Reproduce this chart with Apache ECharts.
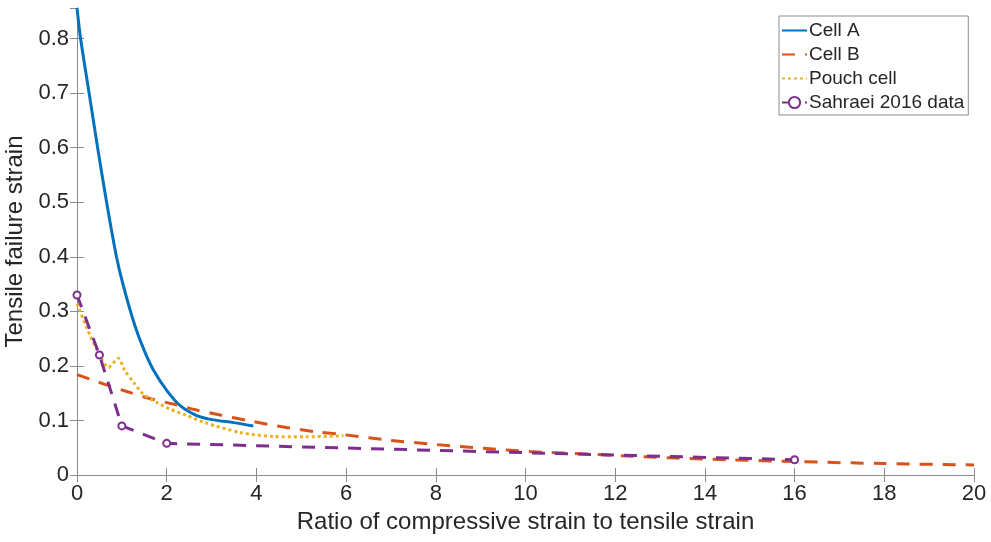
<!DOCTYPE html>
<html>
<head>
<meta charset="utf-8">
<script src="https://cdn.jsdelivr.net/npm/echarts@6/dist/echarts.min.js"></script>
<style>
  html, body { margin: 0; padding: 0; background: #fff; }
  #chart { width: 991px; height: 542px; }
</style>
</head>
<body>
<div id="chart"></div>
<script>
// Tensile failure strain vs. ratio of compressive to tensile strain
const cellA_x = [0, 0.08, 0.27, 0.46, 0.66, 0.88, 1.03, 1.29, 1.5, 1.72, 2.0, 2.3, 2.67, 3.04, 3.49, 3.93];
const cellA_y = [0.856, 0.8, 0.7, 0.6, 0.5, 0.4, 0.348, 0.274, 0.228, 0.19, 0.155, 0.127, 0.109, 0.101, 0.096, 0.090];

const cellB_x = [0, 0.59, 1.11, 1.63, 2.15, 2.67, 3.19, 3.86, 4.67, 5.34, 5.94, 6.94, 7.98, 9.06, 10.1, 11.22, 12.26, 13.37, 14.5, 16.08, 18, 20];
const cellB_y = [0.184, 0.167, 0.153, 0.140, 0.130, 0.119, 0.110, 0.099, 0.087, 0.079, 0.074, 0.064, 0.056, 0.049, 0.043, 0.039, 0.035, 0.031, 0.028, 0.0245, 0.021, 0.0184];

const pouch_x = [0, 0.29, 0.51, 0.70, 0.92, 1.07, 1.26, 1.48, 1.78, 2.07, 2.45, 2.85, 3.63, 4.38, 5.12, 5.94];
const pouch_y = [0.314, 0.256, 0.219, 0.197, 0.214, 0.191, 0.170, 0.148, 0.133, 0.121, 0.109, 0.096, 0.078, 0.0705, 0.070, 0.072];

const sahraei_x = [0, 0.5, 1, 2, 16];
const sahraei_y = [0.33, 0.22, 0.09, 0.058, 0.028];

const seriesNames = ['Cell A', 'Cell B', 'Pouch cell', 'Sahraei 2016 data'];
const xTitle = 'Ratio of compressive strain to tensile strain';
const yTitle = 'Tensile failure strain';

const pairs = (xs, ys) => xs.map((x, i) => [x, ys[i]]);

const FONT = '"Liberation Sans", Arial, sans-serif';
const AXIS_GRAY = '#8c8c8c';
const TEXT = '#262626';

const chart = echarts.init(document.getElementById('chart'), null, { renderer: 'canvas' });

const baseX = {
  type: 'value', min: 0, max: 20, interval: 2,
  axisLine: { show: true, lineStyle: { color: AXIS_GRAY, width: 1 } },
  axisTick: { show: true, inside: true, length: 7, lineStyle: { color: AXIS_GRAY } },
  splitLine: { show: false }
};
const baseY = {
  type: 'value', min: 0, max: 0.856, interval: 0.1,
  axisLine: { show: true, lineStyle: { color: AXIS_GRAY, width: 1 } },
  axisTick: { show: true, inside: true, length: 7, lineStyle: { color: AXIS_GRAY } },
  splitLine: { show: false }
};

// line-only legend samples hide the marker; the measured data keeps its circle
const noMarker = { opacity: 0 };

chart.setOption({
  animation: false,
  backgroundColor: '#fff',
  grid: { left: 77, right: 17, top: 8, bottom: 67, containLabel: false, outerBoundsMode: 'none' },
  legend: {
    orient: 'vertical',
    left: 779, top: 16,
    padding: [5, 4, 3, 2],
    itemWidth: 25, itemHeight: 14, itemGap: 5,
    backgroundColor: '#fff',
    borderColor: AXIS_GRAY, borderWidth: 1,
    textStyle: { fontFamily: FONT, fontSize: 19, color: TEXT, lineHeight: 19, padding: [0, 0, 0, -3] },
    data: [
      { name: seriesNames[0], itemStyle: noMarker },
      { name: seriesNames[1], itemStyle: noMarker },
      { name: seriesNames[2], itemStyle: noMarker },
      { name: seriesNames[3] }
    ]
  },
  xAxis: [
    Object.assign({}, baseX, {
      position: 'bottom',
      name: xTitle, nameLocation: 'middle', nameGap: 31,
      nameTextStyle: { fontFamily: FONT, fontSize: 24, color: TEXT },
      axisLabel: { show: true, margin: 8, fontFamily: FONT, fontSize: 22, color: TEXT }
    }),
    Object.assign({}, baseX, { position: 'top', axisLabel: { show: false } })
  ],
  yAxis: [
    Object.assign({}, baseY, {
      position: 'left',
      name: yTitle, nameLocation: 'middle', nameGap: 46,
      nameTextStyle: { fontFamily: FONT, fontSize: 24, color: TEXT },
      axisLabel: {
        show: true, margin: 8, fontFamily: FONT, fontSize: 22, color: TEXT,
        showMaxLabel: false,
        formatter: v => String(+v.toFixed(2))
      }
    }),
    Object.assign({}, baseY, { position: 'right', axisLabel: { show: false } })
  ],
  series: [
    {
      name: seriesNames[0], type: 'line', xAxisIndex: 0, yAxisIndex: 0,
      data: pairs(cellA_x, cellA_y),
      smooth: 0.3, showSymbol: false, symbol: 'none',
      color: '#0072BD',
      lineStyle: { color: '#0072BD', width: 3 },
      z: 2
    },
    {
      name: seriesNames[1], type: 'line', xAxisIndex: 0, yAxisIndex: 0,
      data: pairs(cellB_x, cellB_y),
      smooth: 0.3, showSymbol: false, symbol: 'none',
      color: '#D95319',
      lineStyle: { color: '#D95319', width: 3, type: [13, 10] },
      z: 3
    },
    {
      name: seriesNames[2], type: 'line', xAxisIndex: 0, yAxisIndex: 0,
      data: pairs(pouch_x, pouch_y),
      smooth: 0.25, showSymbol: false, symbol: 'none',
      color: '#EDB120',
      lineStyle: { color: '#EDB120', width: 3, type: [3, 3] },
      z: 4
    },
    {
      name: seriesNames[3], type: 'line', xAxisIndex: 0, yAxisIndex: 0,
      data: pairs(sahraei_x, sahraei_y),
      symbol: 'emptyCircle', symbolSize: 7, showSymbol: true,
      color: '#7E2F8E',
      itemStyle: { color: '#7E2F8E', borderColor: '#7E2F8E', borderWidth: 2 },
      lineStyle: { color: '#7E2F8E', width: 3, type: [13, 10] },
      z: 5
    }
  ]
});
</script>
</body>
</html>
